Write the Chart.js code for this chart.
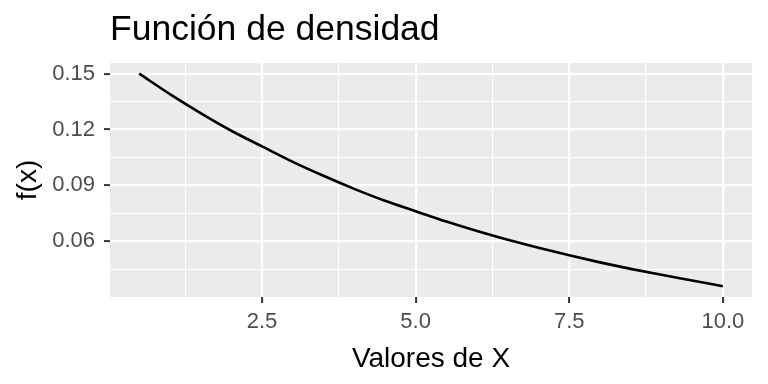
<!DOCTYPE html>
<html>
<head>
<meta charset="utf-8">
<script src="https://cdn.jsdelivr.net/npm/chart.js@4"></script>
<style>
  body { margin: 0; background: #fff; }
</style>
</head>
<body>
<canvas id="myChart" width="768" height="384"></canvas>
<script>
// values
const xs = [0.5, 1.0, 1.5, 2.0, 2.5, 3.0, 3.5, 4.0, 4.5, 5.0,
            5.5, 6.0, 6.5, 7.0, 7.5, 8.0, 8.5, 9.0, 9.5, 10.0]
const ys = [0.1500, 0.1390, 0.1288, 0.1193, 0.1109, 0.1026, 0.0951, 0.0881, 0.0817, 0.0761,
            0.0705, 0.0654, 0.0607, 0.0564, 0.0524, 0.0486, 0.0451, 0.0419, 0.0389, 0.0358]
const xMajor = [2.5, 5.0, 7.5, 10.0]
const xMinor = [1.25, 3.75, 6.25, 8.75]
const yMajor = [0.06, 0.09, 0.12, 0.15]
const yMinor = [0.045, 0.075, 0.105, 0.135]

const font = "'Liberation Sans', Arial, sans-serif"

const isMajor = (list, v) => list.some(m => Math.abs(m - v) < 1e-9)

// grey panel behind the grid
const panelBg = {
  id: 'panelBg',
  beforeDraw(chart) {
    const a = chart.chartArea
    const ctx = chart.ctx
    ctx.save()
    ctx.fillStyle = '#EBEBEB'
    ctx.fillRect(a.left, a.top, a.right - a.left, a.bottom - a.top)
    ctx.restore()
  }
}

function gridOpts(major) {
  return {
    color: '#FFFFFF',
    lineWidth: c => isMajor(major, c.tick.value) ? 2.2 : 1.1,
    tickLength: 6,
    tickColor: c => isMajor(major, c.tick.value) ? '#333333' : 'rgba(0,0,0,0)',
    tickWidth: 2
  }
}

const ctx = document.getElementById('myChart')
new Chart(ctx, {
  type: 'line',
  data: {
    datasets: [{
      data: xs.map((x, i) => ({ x: x, y: ys[i] })),
      borderColor: '#000000',
      borderWidth: 2.6,
      pointRadius: 0,
      fill: false,
      cubicInterpolationMode: 'monotone'
    }]
  },
  options: {
    responsive: false,
    animation: false,
    layout: { padding: { right: 16, left: 0, bottom: 0, top: 0 } },
    plugins: {
      legend: { display: false },
      tooltip: { enabled: false },
      title: {
        display: true,
        text: 'Función de densidad',
        align: 'start',
        fullSize: false,
        color: '#000000',
        font: { family: font, size: 35.5, weight: 'normal', lineHeight: 1.2 },
        padding: { top: 9, bottom: 11.4 }
      }
    },
    scales: {
      x: {
        type: 'linear',
        min: 0.025,
        max: 10.475,
        border: { display: false },
        grid: gridOpts(xMajor),
        afterBuildTicks: s => { s.ticks = xMinor.concat(xMajor).sort((a, b) => a - b).map(v => ({ value: v })) },
        afterFit: s => { s.height = 87 },
        ticks: {
          autoSkip: false,
          maxRotation: 0,
          padding: 6,
          color: '#4D4D4D',
          font: { family: font, size: 22 },
          callback: v => isMajor(xMajor, v) ? v.toFixed(1) : ''
        },
        title: {
          display: true,
          text: 'Valores de X',
          color: '#000000',
          font: { family: font, size: 28, lineHeight: 1.2 },
          padding: { top: 0, bottom: 8 }
        }
      },
      y: {
        min: 0.0300,
        max: 0.1557,
        border: { display: false },
        grid: gridOpts(yMajor),
        afterBuildTicks: s => { s.ticks = yMinor.concat(yMajor).sort((a, b) => a - b).map(v => ({ value: v })) },
        afterFit: s => { s.width = 110 },
        ticks: {
          autoSkip: false,
          padding: 9,
          color: '#4D4D4D',
          font: { family: font, size: 22 },
          callback: v => isMajor(yMajor, v) ? v.toFixed(2) : ''
        },
        title: {
          display: true,
          text: 'f(x)',
          color: '#000000',
          font: { family: font, size: 28, lineHeight: 1.2 },
          padding: { top: 11, bottom: 0 }
        }
      }
    }
  },
  plugins: [panelBg]
})
</script>
</body>
</html>
